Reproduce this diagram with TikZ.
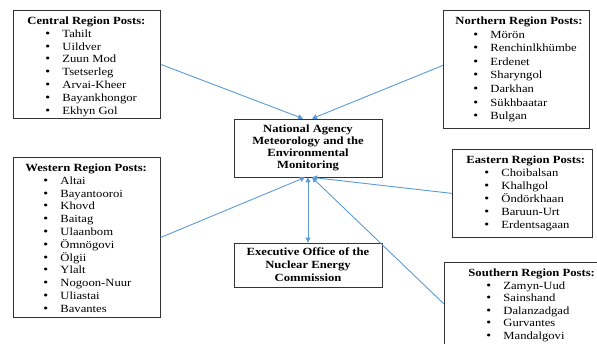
\documentclass[tikz,border=0pt]{standalone}
\usepackage{fontspec}
\setmainfont[FakeStretch=1.15]{Liberation Serif}
\usetikzlibrary{arrows.meta}

\definecolor{linkblue}{RGB}{91,155,213}

\tikzstyle{region} = [draw=black!80, line width=0.8pt, inner sep=0pt, anchor=north west, font=\fontsize{11}{12.8}\selectfont]
\tikzstyle{office} = [draw=black!80, line width=0.8pt, minimum width=148pt, inner sep=2pt, align=center, font=\fontsize{11}{12.2}\selectfont\bfseries]
\tikzstyle{arrow}=[-{Triangle[length=5pt,width=5pt]}, linkblue, line width=0.9pt]

% box text: width, height, left indent, body
\newcommand{\regiontext}[4]{\begin{minipage}[c][#2][t]{#1}\vspace*{6.5pt}\parindent=0pt\leftskip=#3\relax #4\par\end{minipage}}
\newcommand{\regionhead}[1]{{\bfseries #1}}
\newcommand{\post}[1]{\par\hspace*{18pt}\makebox[17pt][l]{\large\textbullet}#1}

\begin{document}
\begin{tikzpicture}[x=1pt, y=-1pt]
  \useasboundingbox (0,0) rectangle (597,343);
  \clip (0,0) rectangle (597,343);

  % region posts
  \node[region](central) at (13,10) {\regiontext{147pt}{108pt}{14pt}{%
    \regionhead{Central Region Posts:}
    \post{Tahilt}\post{Uildver}\post{Zuun Mod}\post{Tsetserleg}
    \post{Arvai-Kheer}\post{Bayankhongor}\post{Ekhyn Gol}}};
  \node[region](northern) at (443,10) {\regiontext{146pt}{118pt}{12pt}{%
    \baselineskip=13.6pt
    \regionhead{Northern Region Posts:}
    \post{Mörön}\post{Renchinlkhümbe}\post{Erdenet}\post{Sharyngol}
    \post{Darkhan}\post{Sükhbaatar}\post{Bulgan}}};
  \node[region](western) at (13,157) {\regiontext{147pt}{160pt}{12pt}{%
    \regionhead{Western Region Posts:}
    \post{Altai}\post{Bayantooroi}\post{Khovd}\post{Baitag}
    \post{Ulaanbom}\post{Ömnögovi}\post{Ölgii}\post{Ylalt}
    \post{Nogoon-Nuur}\post{Uliastai}\post{Bavantes}}};
  \node[region](eastern) at (452,149) {\regiontext{140pt}{88pt}{14pt}{%
    \baselineskip=13pt
    \regionhead{Eastern Region Posts:}
    \post{Choibalsan}\post{Khalhgol}\post{Öndörkhaan}\post{Baruun-Urt}
    \post{Erdentsagaan}}};
  \node[region](southern) at (444,262) {\regiontext{170pt}{100pt}{24pt}{%
    \baselineskip=12.5pt
    \regionhead{Southern Region Posts:}
    \post{Zamyn-Uud}\post{Sainshand}\post{Dalanzadgad}\post{Gurvantes}
    \post{Mandalgovi}}};

  % offices
  \node[office, minimum height=58pt](agency) at (308,148)
    {National Agency\\Meteorology and the\\Environmental\\Monitoring};
  \node[office, minimum height=44pt, font=\fontsize{11}{13}\selectfont\bfseries](executive) at (308,265)
    {Executive Office of the\\Nuclear Energy\\Commission};

  \draw[arrow] (central.east) to ([xshift=-5pt]agency.north);
  \draw[arrow] ([yshift=4pt]northern.west) to ([xshift=4pt]agency.north);
  \draw[arrow] (western.east) to ([xshift=-3pt]agency.south);
  \draw[arrow] (eastern.west) to ([xshift=4pt]agency.south);
  \draw[arrow] ([yshift=-42pt]southern.north west) to ([xshift=4pt]agency.south);
  \draw[arrow, {Triangle[length=5pt,width=5pt]}-{Triangle[length=5pt,width=5pt]}] (agency.south) to (executive.north);

\end{tikzpicture}
\end{document}
